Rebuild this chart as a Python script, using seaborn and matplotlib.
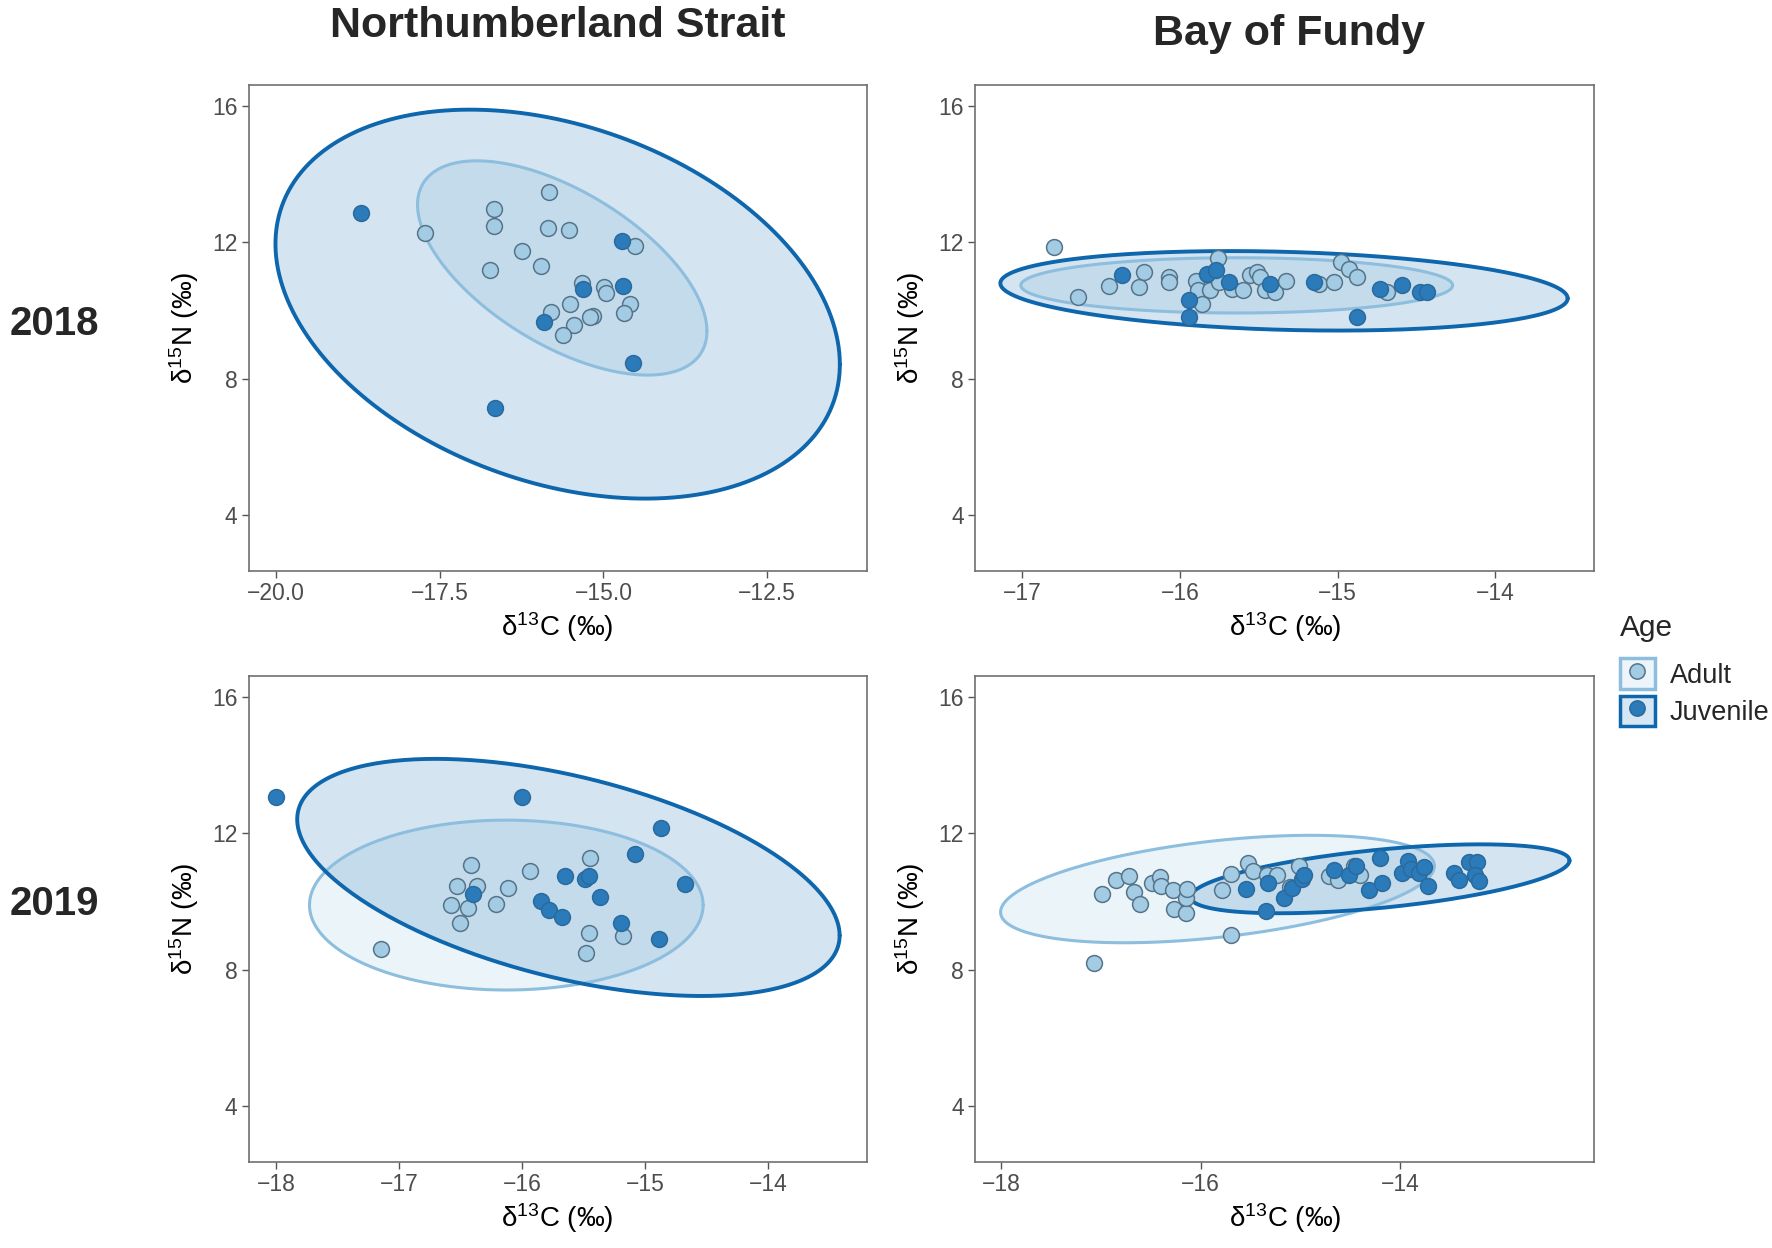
import numpy as np
import pandas as pd
import matplotlib
matplotlib.use("Agg")
import matplotlib.pyplot as plt
from matplotlib.patches import Patch
from matplotlib.lines import Line2D
from matplotlib.legend_handler import HandlerTuple
import seaborn as sns

sns.set_theme(style="white")
plt.rcParams['font.family'] = ['Liberation Sans', 'DejaVu Sans']
plt.rcParams['mathtext.default'] = 'regular'

# ---------------- data ----------------
regions = ["Northumberland Strait", "Bay of Fundy"]
years = ["2018", "2019"]
ages = ["Adult", "Juvenile"]

# Northumberland Strait 2018
ns18_adult_c = [-17.73, -16.67, -16.67, -16.73, -15.83, -15.84, -15.53, -16.25, -15.95, -15.33,
                -14.99, -14.96, -14.52, -14.60, -14.69, -15.51, -15.80, -15.45, -15.62, -15.16, -15.20]
ns18_adult_n = [12.26, 12.99, 12.48, 11.18, 13.49, 12.41, 12.36, 11.74, 11.31, 10.82,
                10.69, 10.53, 11.89, 10.20, 9.93, 10.20, 9.97, 9.59, 9.29, 9.84, 9.82]
ns18_juv_c = [-18.70, -16.65, -14.71, -14.70, -15.32, -15.91, -14.55]
ns18_juv_n = [12.87, 7.15, 12.04, 10.73, 10.62, 9.67, 8.47]

# Bay of Fundy 2018
bf18_adult_c = [-16.80, -16.65, -16.45, -16.26, -16.23, -16.07, -16.07, -15.90, -15.885, -15.81,
                -15.86, -15.76, -15.75, -15.67, -15.60, -15.555, -15.51, -15.49, -15.46, -15.40,
                -15.33, -15.12, -15.02, -14.98, -14.93, -14.875, -14.685]
bf18_adult_n = [11.86, 10.41, 10.72, 10.69, 11.13, 10.98, 10.83, 10.88, 10.59, 10.59,
                10.20, 11.54, 10.83, 10.64, 10.59, 11.03, 11.13, 10.98, 10.59, 10.54,
                10.88, 10.79, 10.83, 11.42, 11.23, 10.98, 10.54]
bf18_juv_c = [-16.37, -15.83, -15.77, -15.69, -15.43, -15.94, -15.94, -15.15, -14.73, -14.59,
              -14.48, -14.43, -14.875]
bf18_juv_n = [11.03, 11.08, 11.18, 10.83, 10.79, 10.30, 9.81, 10.83, 10.64, 10.74,
              10.54, 10.54, 9.81]

# Northumberland Strait 2019
ns19_adult_c = [-17.15, -16.42, -16.53, -16.37, -16.58, -16.44, -16.51, -16.21, -16.12, -15.94,
                -15.45, -15.46, -15.48, -15.18]
ns19_adult_n = [8.61, 11.06, 10.45, 10.47, 9.91, 9.80, 9.38, 9.94, 10.40, 10.90,
                11.28, 9.09, 8.50, 9.00]
ns19_juv_c = [-18.00, -16.00, -14.87, -15.08, -14.68, -15.65, -15.49, -15.46, -15.37, -15.85,
              -15.78, -15.68, -15.20, -14.89, -16.40]
ns19_juv_n = [13.08, 13.08, 12.17, 11.40, 10.51, 10.76, 10.67, 10.74, 10.13, 10.01,
              9.75, 9.55, 9.38, 8.91, 10.23]

# Bay of Fundy 2019
bf19_adult_c = [-17.07, -16.99, -16.85, -16.72, -16.67, -16.61, -16.49, -16.41, -16.40, -16.28,
                -16.27, -16.15, -16.15, -16.14, -15.78, -15.69, -15.69, -15.52, -15.47, -15.33,
                -15.23, -15.10, -15.01, -14.71, -14.62, -14.46, -14.40]
bf19_adult_n = [8.20, 10.23, 10.63, 10.76, 10.27, 9.94, 10.56, 10.71, 10.45, 10.34,
                9.79, 9.66, 10.10, 10.38, 10.34, 10.82, 9.02, 11.12, 10.90, 10.79,
                10.79, 10.43, 11.04, 10.74, 10.63, 11.04, 10.79]
bf19_juv_c = [-15.54, -15.34, -15.32, -15.16, -15.08, -14.98, -14.96, -14.66, -14.51, -14.44,
              -14.31, -14.20, -14.18, -13.98, -13.92, -13.89, -13.81, -13.76, -13.72, -13.46,
              -13.41, -13.31, -13.23, -13.25, -13.21]
bf19_juv_n = [10.38, 9.72, 10.56, 10.12, 10.41, 10.65, 10.79, 10.93, 10.79, 11.04,
              10.34, 11.29, 10.56, 10.85, 11.20, 10.96, 10.85, 11.01, 10.45, 10.85,
              10.63, 11.15, 11.15, 10.79, 10.60]

# Ellipse parameters, order: NS18, BF18, NS19, BF19
ell_adult_cx = [-15.63, -15.64, -16.13, -15.83]
ell_adult_cy = [11.25, 10.74, 9.90, 10.37]
ell_adult_rx = [2.21, 1.37, 1.60, 2.175]
ell_adult_ry = [3.14, 0.81, 2.49, 1.575]
ell_adult_r = [-0.59, 0.0, 0.0, 0.43]
ell_juv_cx = [-15.70, -15.34, -15.625, -14.20]
ell_juv_cy = [10.19, 10.58, 10.71, 10.67]
ell_juv_rx = [4.31, 1.80, 2.205, 1.90]
ell_juv_ry = [5.70, 1.165, 3.475, 1.01]
ell_juv_r = [-0.31, -0.19, -0.49, 0.53]

# axis ticks per panel
xticks_ns18 = [-20.0, -17.5, -15.0, -12.5]
xticklabels_ns18 = ["\u221220.0", "\u221217.5", "\u221215.0", "\u221212.5"]
xticks_bf18 = [-17, -16, -15, -14]
xticks_ns19 = [-18, -17, -16, -15, -14]
xticks_bf19 = [-18, -16, -14]
yticks = [4, 8, 12, 16]

# ---------------- build table ----------------
def frame(region, year, ac, an, jc, jn):
    a = pd.DataFrame({"C": ac, "N": an, "Age": "Adult"})
    j = pd.DataFrame({"C": jc, "N": jn, "Age": "Juvenile"})
    d = pd.concat([a, j], ignore_index=True)
    d["Region"] = region
    d["Year"] = year
    return d

df = pd.concat([
    frame("Northumberland Strait", "2018", ns18_adult_c, ns18_adult_n, ns18_juv_c, ns18_juv_n),
    frame("Bay of Fundy", "2018", bf18_adult_c, bf18_adult_n, bf18_juv_c, bf18_juv_n),
    frame("Northumberland Strait", "2019", ns19_adult_c, ns19_adult_n, ns19_juv_c, ns19_juv_n),
    frame("Bay of Fundy", "2019", bf19_adult_c, bf19_adult_n, bf19_juv_c, bf19_juv_n),
], ignore_index=True)

# ---------------- styles ----------------
pt_fill = {"Adult": "#a3cbe4", "Juvenile": "#2b7bba"}
pt_edge = {"Adult": "#557489", "Juvenile": "#2a6a9c"}
ell_edge = {"Adult": "#8dbedd", "Juvenile": "#0e66ad"}
ell_fill = {"Adult": "#9ecae1", "Juvenile": "#2b7bba"}
ell_lw = {"Adult": 2.2, "Juvenile": 2.8}
ell_alpha = 0.2

W, H = 1772, 1248
fig = plt.figure(figsize=(W / 100, H / 100), dpi=100)

left_x = [0.1403, 0.5503]
widths = [0.3488, 0.3495]
bottoms = [0.5428, 0.0692]
height = 0.3893

panels = [("Northumberland Strait", "2018", 0, 0, (-20.42, -10.98), xticks_ns18, xticklabels_ns18),
          ("Bay of Fundy", "2018", 0, 1, (-17.30, -13.37), xticks_bf18, None),
          ("Northumberland Strait", "2019", 1, 0, (-18.225, -13.20), xticks_ns19, None),
          ("Bay of Fundy", "2019", 1, 1, (-18.26, -12.05), xticks_bf19, None)]

t = np.linspace(0, 2 * np.pi, 400)

def ellipse_xy(cx, cy, rx, ry, r):
    x = cx + rx * np.cos(t)
    y = cy + ry * (r * np.cos(t) + np.sqrt(1 - r * r) * np.sin(t))
    return x, y

for k, (reg, yr, row, col, xl, xt, xtl) in enumerate(panels):
    ax = fig.add_axes([left_x[col], bottoms[row], widths[col], height])
    sub = df[(df.Region == reg) & (df.Year == yr)]
    # ellipses
    for age, cx, cy, rx, ry, rr in [
        ("Adult", ell_adult_cx[k], ell_adult_cy[k], ell_adult_rx[k], ell_adult_ry[k], ell_adult_r[k]),
        ("Juvenile", ell_juv_cx[k], ell_juv_cy[k], ell_juv_rx[k], ell_juv_ry[k], ell_juv_r[k])]:
        ex, ey = ellipse_xy(cx, cy, rx, ry, rr)
        ax.fill(ex, ey, color=ell_fill[age], alpha=ell_alpha, lw=0, zorder=1)
        ax.plot(ex, ey, color=ell_edge[age], lw=ell_lw[age], zorder=2)
    # points
    for age in ages:
        s = sub[sub.Age == age]
        sns.scatterplot(data=s, x="C", y="N", ax=ax, color=pt_fill[age],
                        edgecolor=pt_edge[age], linewidth=1.1, s=130, zorder=3,
                        legend=False)
    ax.set_xlim(*xl)
    ax.set_ylim(2.38, 16.62)
    ax.set_xticks(xt)
    if xtl is not None:
        ax.set_xticklabels(xtl)
    ax.set_yticks(yticks)
    ax.tick_params(axis="both", which="major", labelsize=16.5, colors="#4d4d4d",
                   length=5, width=1.0, direction="out", bottom=True, left=True, pad=3)
    ax.tick_params(axis="both", color="#555555")
    ax.set_xlabel("\u03b4$^{13}$C (\u2030)", fontsize=20, color="black", labelpad=4)
    ax.set_ylabel("\u03b4$^{15}$N (\u2030)", fontsize=20, color="black", labelpad=8)
    for sp in ax.spines.values():
        sp.set_color("#6f6f6f")
        sp.set_linewidth(1.2)
    ax.grid(False)
    ax.set_facecolor("white")

# column titles
fig.text(0.3147, 0.979, "Northumberland Strait", ha="center", va="center",
         fontsize=31, fontweight="bold")
fig.text(0.7276, 0.973, "Bay of Fundy", ha="center", va="center",
         fontsize=31, fontweight="bold")
# row labels
fig.text(0.0306, 0.740, "2018", ha="center", va="center", fontsize=29, fontweight="bold")
fig.text(0.0306, 0.2756, "2019", ha="center", va="center", fontsize=29, fontweight="bold")

# legend
handles = []
for age in ages:
    box = Patch(facecolor=(0.93, 0.96, 0.98) if age == "Adult" else (0.84, 0.90, 0.95),
                edgecolor=ell_edge[age], linewidth=2.5)
    dot = Line2D([], [], marker="o", linestyle="", markersize=11,
                 markerfacecolor=pt_fill[age], markeredgecolor=pt_edge[age],
                 markeredgewidth=1.1)
    handles.append((box, dot))
leg = fig.legend(handles, ages, handler_map={tuple: HandlerTuple(ndivide=1)},
                 loc="upper left", bbox_to_anchor=(0.9065, 0.519), frameon=False,
                 title="Age", title_fontsize=21.5, fontsize=19.5, handlelength=1.3,
                 handleheight=1.35, labelspacing=0.25, handletextpad=0.55,
                 borderpad=0, alignment="left")
leg._legend_box.sep = 12

fig.savefig("out.png", dpi=100, facecolor="white")
